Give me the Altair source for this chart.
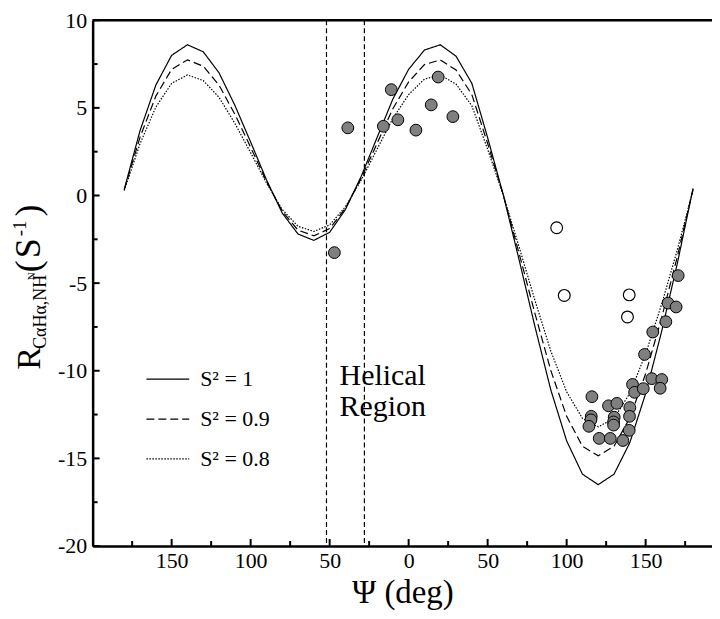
import altair as alt
import pandas as pd

# ---------------- data ----------------
psi_grid = list(range(-180, 181, 10))
r_s1 = [0.35, 3.7, 6.3, 8.0, 8.6, 8.2, 7.0, 5.15, 3.05, 0.9, -1.0, -2.2, -2.56, -2.1,
        -0.8, 1.1, 3.3, 5.5, 7.2, 8.3, 8.6, 7.95, 6.4, 3.3, 0.0, -3.7, -7.5, -11.1,
        -14.0, -15.9, -16.5, -15.9, -14.1, -11.3, -7.8, -3.9, 0.4]
r_s09 = [0.32, 3.33, 5.67, 7.2, 7.74, 7.38, 6.3, 4.64, 2.75, 0.81, -0.9, -1.98, -2.3,
         -1.89, -0.72, 0.99, 2.97, 4.95, 6.48, 7.47, 7.74, 7.16, 5.76, 2.97, 0.0, -3.33,
         -6.75, -9.99, -12.6, -14.31, -14.85, -14.31, -12.69, -10.17, -7.02, -3.51, 0.36]
r_s08 = [0.28, 2.96, 5.04, 6.4, 6.88, 6.56, 5.6, 4.12, 2.44, 0.72, -0.8, -1.76, -2.05,
         -1.68, -0.64, 0.88, 2.64, 4.4, 5.76, 6.64, 6.88, 6.36, 5.12, 2.64, 0.0, -2.96,
         -6.0, -8.88, -11.2, -12.72, -13.2, -12.72, -11.28, -9.04, -6.24, -3.12, 0.32]
series_labels = ["S\u00b2 = 1", "S\u00b2 = 0.9", "S\u00b2 = 0.8"]

filled_psi = [-38.5, -47, -16, -11, -6.8, 4.6, 14.3, 18.7, 28,
              170.6, 164.2, 169.3, 162.8, 154.5, 149.3, 153.9, 160.2, 159.2, 141.7,
              143, 148.5, 116, 126.5, 131.8, 140, 115.6, 115.4, 114.1, 130.1, 129.7,
              129.7, 139.8, 139.6, 120.6, 127.6, 135.6]
filled_r = [3.86, -3.26, 3.95, 6.04, 4.32, 3.73, 5.17, 6.76, 4.5,
            -4.57, -6.14, -6.36, -7.2, -7.79, -9.07, -10.45, -10.5, -11.0, -10.78,
            -11.23, -11.02, -11.48, -12.0, -11.86, -12.1, -12.6, -12.8, -13.17, -12.65, -12.92,
            -13.1, -12.6, -13.4, -13.86, -13.86, -13.98]
open_psi = [93.7, 98.5, 139.6, 138.5]
open_r = [-1.84, -5.7, -5.67, -6.93]

helical_bounds = [-52, -28]
x_domain = [-200, 192]
y_domain = [-20, 10]
x_major = [-150, -100, -50, 0, 50, 100, 150]
x_minor = [-175, -125, -75, -25, 25, 75, 125, 175]
y_major = [-20, -15, -10, -5, 0, 5, 10]
y_minor = [-17.5, -12.5, -7.5, -2.5, 2.5, 7.5]

# ---------------- tables ----------------
curves = pd.DataFrame({
    "psi": psi_grid * 3,
    "R": r_s1 + r_s09 + r_s08,
    "series": [series_labels[0]] * len(psi_grid) + [series_labels[1]] * len(psi_grid)
              + [series_labels[2]] * len(psi_grid),
})
filled = pd.DataFrame({"psi": filled_psi, "R": filled_r})
opened = pd.DataFrame({"psi": open_psi, "R": open_r})
helix = pd.DataFrame({"psi": helical_bounds})
top_line = pd.DataFrame({"psi": [x_domain[0]], "x2": [x_domain[1]], "R": [y_domain[1]]})
xmaj = pd.DataFrame({"psi": x_major})
xmin = pd.DataFrame({"psi": x_minor})
ymaj = pd.DataFrame({"R": y_major})
ymin = pd.DataFrame({"R": y_minor})

FONT = "Liberation Serif"
W, H = 622, 528
xs = alt.Scale(domain=x_domain, nice=False, zero=False)
ys = alt.Scale(domain=y_domain, nice=False, zero=False)

x_axis = alt.Axis(values=x_major, ticks=False, grid=False, domainWidth=2.5, domainColor="black",
                  labelExpr="datum.value < 0 ? '\u2002' + abs(datum.value) : '' + datum.value",
                  labelFont=FONT, labelFontSize=22, labelColor="black", labelPadding=5,
                  title="\u03a8 (deg)", titleFont=FONT, titleFontSize=33, titleFontWeight="normal",
                  titleColor="black", titlePadding=5)
y_axis = alt.Axis(values=y_major, ticks=False, grid=False, domainWidth=2.5, domainColor="black",
                  labelExpr="'' + datum.value", labelFont=FONT, labelFontSize=22,
                  labelColor="black", labelPadding=6, title="")

X = alt.X("psi:Q", scale=xs, axis=x_axis)
Y = alt.Y("R:Q", scale=ys, axis=y_axis)

lines = alt.Chart(curves).mark_line(color="black", strokeWidth=1.2).encode(
    x=X, y=Y,
    strokeDash=alt.StrokeDash(
        "series:N",
        scale=alt.Scale(domain=series_labels, range=[[1, 0], [8, 4], [1.5, 1.5]]),
        legend=alt.Legend(orient="none", legendX=53, legendY=338, title=None,
                          symbolType="stroke", symbolSize=1849, symbolStrokeWidth=1.2,
                          symbolStrokeColor="black", labelFont=FONT, labelFontSize=22,
                          labelColor="black", labelOffset=10, rowPadding=6, padding=0),
    ),
)

helix_lines = alt.Chart(helix).mark_rule(color="black", strokeWidth=1.2, strokeDash=[5, 3]).encode(x=X)

top = alt.Chart(top_line).mark_rule(color="black", strokeWidth=2.5).encode(x=X, x2="x2:Q", y=Y)

pts_f = alt.Chart(filled).mark_circle(size=140, color="#7f7f7f", stroke="black",
                                      strokeWidth=1, opacity=1).encode(x=X, y=Y)
pts_o = alt.Chart(opened).mark_circle(size=140, color="white", stroke="black",
                                      strokeWidth=1.2, opacity=1).encode(x=X, y=Y)

def xtick(df, length):
    return alt.Chart(df).mark_rule(color="black", strokeWidth=2).encode(
        x=X, y=alt.value(H), y2=alt.value(H - length))

def ytick(df, length):
    return alt.Chart(df).mark_rule(color="black", strokeWidth=2).encode(
        y=Y, x=alt.value(0), x2=alt.value(length))

one = alt.Data(values=[{"k": 0}])

def label(text, x, y, size, angle=0):
    return alt.Chart(one).mark_text(font=FONT, fontSize=size, align="left",
                                    baseline="alphabetic", angle=angle, color="black").encode(
        x=alt.value(x), y=alt.value(y), text=alt.value(text))

helical_text = [label("Helical", 248, 366, 30), label("Region", 248, 397, 30)]

ytitle = [
    label("R", -53, 351, 34, 270),
    label("C\u03b1H\u03b1,NH", -47, 330, 18, 270),
    label("N", -58, 261, 11, 270),
    label("(", -53, 253, 36, 270),
    label("S", -53, 239, 36, 270),
    label("-1", -67, 217, 19, 270),
    label(")", -53, 197, 36, 270),
]

chart = alt.layer(
    lines, helix_lines, top, pts_f, pts_o,
    xtick(xmaj, 7), xtick(xmin, 5), ytick(ymaj, 7), ytick(ymin, 5),
    *helical_text, *ytitle,
).properties(
    width=W, height=H, autosize="none",
    padding={"left": 85, "top": 11, "right": 0, "bottom": 72},
).configure_view(stroke=None).configure(font=FONT, background="white")

chart.save("out.html", embed_options={"renderer": "svg", "actions": False})
